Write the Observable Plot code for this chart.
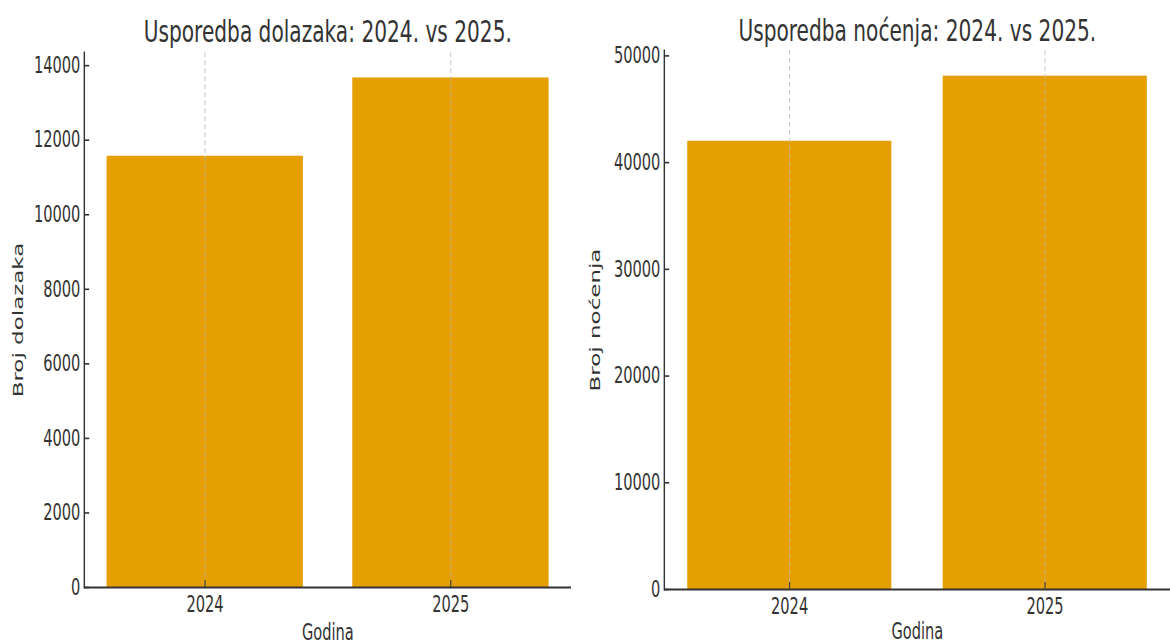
<!DOCTYPE html>
<html>
<head>
<meta charset="utf-8">
<script src="https://cdn.jsdelivr.net/npm/d3@7"></script>
<script src="https://cdn.jsdelivr.net/npm/@observablehq/plot@0.6"></script>
<style>
  html, body { margin: 0; padding: 0; background: #fff; }
  #wrap { position: relative; width: 1170px; height: 644px; overflow: hidden; }
  #wrap svg { position: absolute; top: 0; max-width: none !important; }
</style>
</head>
<body>
<div id="wrap"></div>
<script>
// ---- data ----
const years = ["2024", "2025"];
const dolasci = [11570, 13670];
const nocenja = [42000, 48100];
const ticksDolasci = [0, 2000, 4000, 6000, 8000, 10000, 12000, 14000];
const ticksNocenja = [0, 10000, 20000, 30000, 40000, 50000];
const titleDolasci = "Usporedba dolazaka: 2024. vs 2025.";
const titleNocenja = "Usporedba noćenja: 2024. vs 2025.";
const labelX = "Godina";
const labelYDolasci = "Broj dolazaka";
const labelYNocenja = "Broj noćenja";

// horizontal squeeze of the original figure
const S = 0.65;
const FONT = "DejaVu Sans, sans-serif";
const INK = "#333333";
const BAR = "#E69F00";

function panel({values, ticks, ymax, title, ylabel, screenLeft, screenWidth, mt, mb, mr, titleDy, ylabelDx, xlabelDy}) {
  const rows = years.map((y, i) => ({year: y, value: values[i]}));
  const W = screenWidth / S;
  const H = 644;
  const ml = 84 / S;
  const svg = Plot.plot({
    width: W,
    height: H,
    marginLeft: ml,
    marginRight: mr / S,
    marginTop: mt,
    marginBottom: mb,
    style: {fontFamily: FONT, color: INK, background: "transparent", overflow: "visible"},
    x: {domain: years, paddingInner: 0.2, paddingOuter: 0.09, label: null},
    y: {domain: [0, ymax], label: null},
    marks: [
      Plot.barY(rows, {x: "year", y: "value", fill: BAR}),
      Plot.gridX({stroke: "#b8b8b8", strokeOpacity: 0.9, strokeWidth: 1.3, strokeDasharray: "5,3"}),
      Plot.frame({anchor: "left", stroke: INK, strokeWidth: 2.2}),
      Plot.ruleY([0], {stroke: INK, strokeWidth: 2}),
      Plot.axisY({ticks: ticks, tickSize: 0, tickPadding: 6, fontSize: 22.5, label: null, tickFormat: d => String(d), fill: INK}),
      Plot.axisY({ticks: ticks, tickSize: 8, dx: 8, tickFormat: () => "", label: null, stroke: INK, strokeWidth: 1.6}),
      Plot.axisX({tickSize: 0, tickPadding: 9, fontSize: 22.5, label: null, fill: INK}),
      Plot.axisX({tickSize: 7, dy: -7, tickFormat: () => "", label: null, stroke: INK, strokeWidth: 1.6}),
      Plot.text([title], {text: d => d, frameAnchor: "top", lineAnchor: "middle", dy: titleDy, fontSize: 31, fill: INK}),
      Plot.text([labelX], {text: d => d, frameAnchor: "bottom", lineAnchor: "top", dy: xlabelDy, fontSize: 22.5, fill: INK}),
      Plot.text([ylabel], {text: d => d, frameAnchor: "left", textAnchor: "middle", lineAnchor: "middle", rotate: -90, dx: ylabelDx, fontSize: 23, fill: INK})
    ]
  });
  svg.setAttribute("width", screenWidth);
  svg.setAttribute("height", H);
  svg.setAttribute("preserveAspectRatio", "none");
  svg.style.width = screenWidth + "px";
  svg.style.height = H + "px";
  svg.style.left = screenLeft + "px";
  return svg;
}

const wrap = document.getElementById("wrap");
wrap.appendChild(panel({
  values: dolasci, ticks: ticksDolasci, ymax: 14353,
  title: titleDolasci, ylabel: labelYDolasci,
  screenLeft: 0, screenWidth: 580, mt: 52, mb: 57, mr: 9,
  titleDy: -20, ylabelDx: -(84 - 18) / S, xlabelDy: 37
}));
wrap.appendChild(panel({
  values: nocenja, ticks: ticksNocenja, ymax: 50505,
  title: titleNocenja, ylabel: labelYNocenja,
  screenLeft: 580, screenWidth: 590, mt: 50, mb: 55, mr: 0,
  titleDy: -19, ylabelDx: -(84 - 15) / S, xlabelDy: 34
}));
</script>
</body>
</html>
